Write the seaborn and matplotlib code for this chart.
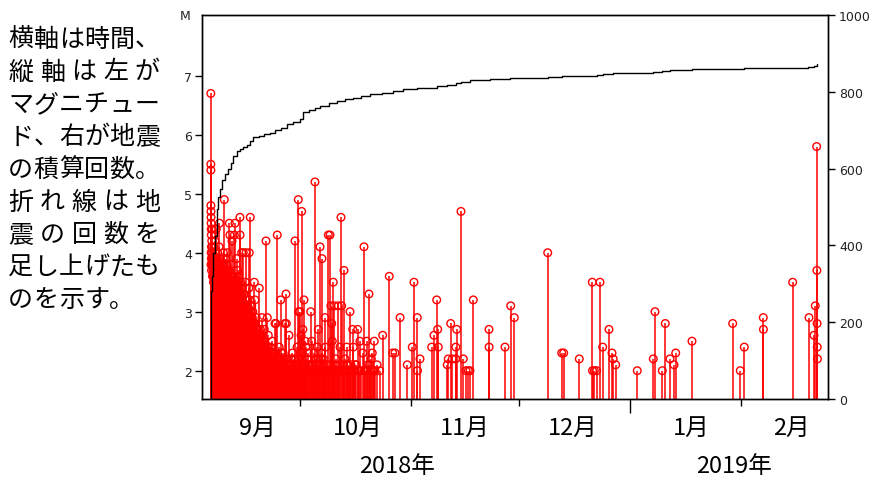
import numpy as np
import pandas as pd
import matplotlib
matplotlib.use("Agg")
import matplotlib.pyplot as plt
import seaborn as sns

# ---------------- data ----------------
START = "2018-09-01"  # event times are days since this date

# earthquakes with readable markers: days since 2018-09-01, magnitude
quake_days = [
    5.13, 5.14, 5.15, 5.16, 5.18, 5.2, 5.22, 5.25, 5.28, 5.32, 5.36, 5.4, 5.45, 5.5, 5.55, 5.62, 5.7, 5.78, 5.86, 5.94,
    6.05, 6.15, 6.25, 6.35, 6.45, 6.55, 6.65, 6.75, 6.85, 6.95, 7.05, 7.15, 7.25, 7.35, 7.45, 7.55, 7.65, 7.75, 7.85, 7.95,
    8.05, 8.2, 8.35, 8.5, 8.65, 8.8, 8.9, 9.0, 9.15, 9.3, 9.45, 9.6, 9.75, 9.9,
    10.05, 10.2, 10.3, 10.45, 10.6, 10.75, 10.9, 11.05, 11.2, 11.35, 11.5, 11.7, 11.88, 12.0,
    12.15, 12.3, 12.45, 12.6, 12.75, 12.9, 13.05, 13.27, 13.3, 13.45, 13.6, 13.74, 13.9,
    14.05, 14.19, 14.35, 14.5, 14.66, 14.8, 14.94, 15.1, 15.25, 15.42, 15.6, 15.75, 15.86, 15.95,
    16.14, 16.3, 16.53, 16.7, 16.85, 17.0, 17.15, 17.26, 17.45, 17.6, 17.8, 17.95,
    18.1, 18.25, 18.37, 18.5, 18.65, 18.8, 18.95, 19.1, 19.25, 19.4, 19.6, 19.8, 20.04,
    20.2, 20.35, 20.52, 20.7, 20.88, 21.05, 21.16, 21.3, 21.45, 21.6, 21.75, 21.9,
    22.1, 22.3, 22.5, 22.7, 22.85, 23.03, 23.2, 23.31, 23.5, 23.67, 23.85,
    24.0, 24.2, 24.4, 24.62, 24.78, 24.95, 25.1, 25.3, 25.5, 25.8, 25.95,
    26.09, 26.2, 26.45, 26.65, 26.93, 27.1, 27.3, 27.5, 27.7, 27.9,
    28.1, 28.3, 28.6, 28.8, 29.0, 29.2, 29.35, 29.52, 29.6, 29.8, 29.95,
    30.1, 30.3, 30.47, 30.6, 30.8, 30.95, 31.11, 31.3, 31.45, 31.6, 31.8, 32.0, 32.2, 32.5, 32.7, 32.98, 33.26, 33.5, 33.7, 33.9,
    34.18, 34.4, 34.6, 34.8, 35.1, 35.3, 35.57, 35.77, 36.0, 36.13, 36.3, 36.5, 36.75, 36.97, 37.1, 37.3, 37.5, 37.7, 37.89,
    38.1, 38.36, 38.6, 38.84, 39.0, 39.1, 39.28, 39.56, 39.8, 40.0, 40.3, 40.67, 40.9, 41.15, 41.43, 41.62, 41.9,
    42.26, 42.54, 42.8, 43.02, 43.3, 43.6, 43.94, 44.2, 44.41, 44.69, 44.86, 45.2, 45.6, 46.08, 46.3, 46.72, 47.0, 47.48, 47.84,
    48.2, 48.59, 48.9, 49.23, 49.6, 49.9,
    50.15, 50.26, 50.71, 50.91, 51.5, 52.2, 53.05, 54.89, 55.84, 56.48, 57.9,
    59.91, 61.3, 61.78, 62.7, 62.75, 63.45, 66.71, 67.35, 68.11, 68.39, 68.55, 71.06, 71.34, 72.01, 72.46, 73.41, 73.45,
    73.68, 74.88, 75.52, 76.27, 76.91, 77.39, 78.31,
    82.69, 82.72, 87.15, 88.74, 89.74, 99.06, 102.96, 103.51, 107.86, 111.49, 111.55, 112.05, 112.71, 113.63, 114.39,
    116.14, 116.98, 117.3, 118.01, 124.03, 128.49, 128.97, 131.0, 131.84, 133.15, 134.27, 134.74, 139.28,
    150.63, 152.75, 153.86, 159.16, 159.2, 167.35, 171.9, 173.29, 173.65, 174.04, 174.1, 174.15, 174.2, 174.25,
]
quake_mag = [
    6.7, 5.5, 5.4, 4.8, 4.7, 4.6, 4.5, 4.4, 4.3, 4.1, 4.0, 4.2, 3.9, 3.8, 4.4, 3.6, 4.0, 3.7, 3.5, 4.1,
    3.6, 3.9, 4.2, 3.7, 3.4, 3.8, 4.4, 3.5, 3.9, 3.6, 4.0, 3.7, 3.3, 3.8, 4.1, 4.5, 3.5, 3.6, 3.9, 3.4,
    3.7, 3.5, 3.8, 3.6, 4.0, 3.7, 4.9, 3.7, 3.4, 3.9, 3.5, 3.6, 4.0, 3.3,
    3.7, 3.4, 4.5, 4.3, 3.5, 3.8, 3.6, 4.2, 3.4, 3.5, 3.6, 4.3, 4.5, 3.3,
    3.5, 3.9, 3.4, 3.7, 3.2, 3.6, 3.3, 4.6, 4.3, 3.5, 3.1, 4.0, 3.4,
    3.0, 4.0, 3.3, 3.1, 2.8, 3.5, 4.0, 3.2, 2.9, 3.1, 3.0, 3.4, 4.0, 3.2,
    4.6, 3.0, 3.1, 2.9, 3.0, 2.7, 2.8, 3.5, 3.2, 2.8, 2.9, 2.6,
    2.5, 2.7, 2.5, 2.4, 3.4, 2.6, 2.7, 2.4, 2.6, 2.9, 2.3, 2.5, 2.7,
    2.3, 2.4, 4.2, 2.2, 2.9, 2.4, 2.6, 2.2, 2.3, 2.1, 2.4, 2.2,
    2.3, 2.5, 2.1, 2.2, 2.3, 2.8, 2.1, 2.8, 2.2, 4.3, 2.2,
    2.1, 2.4, 2.2, 3.2, 2.3, 2.0, 2.1, 2.3, 2.0, 2.8, 2.2,
    3.3, 2.8, 2.2, 2.0, 2.6, 2.0, 2.1, 2.2, 2.0, 2.3,
    2.0, 2.2, 4.2, 2.1, 2.0, 2.4, 2.1, 4.9, 3.0, 2.2, 3.0,
    2.0, 2.6, 4.7, 2.3, 2.7, 2.1, 3.2, 2.1, 2.5, 2.4, 2.0, 2.2, 2.3, 2.1, 2.0, 3.0, 2.5, 2.1, 2.0, 2.3,
    5.2, 2.2, 2.0, 2.4, 2.7, 2.0, 4.1, 2.2, 2.3, 3.9, 2.0, 2.2, 2.0, 2.9, 2.4, 2.0, 2.1, 2.0, 4.3,
    2.0, 4.3, 3.1, 2.8, 2.5, 2.0, 3.5, 3.1, 2.0, 2.2, 2.0, 3.1, 2.0, 2.4, 4.6, 3.1, 2.0,
    3.7, 2.2, 2.0, 2.4, 2.1, 2.0, 3.0, 2.1, 2.0, 2.7, 2.4, 2.0, 2.1, 2.7, 2.0, 2.5, 2.0, 2.3, 4.1,
    2.0, 2.5, 2.1, 3.3, 2.0, 2.2,
    2.3, 2.0, 2.5, 2.0, 2.1, 2.0, 2.6, 3.6, 2.3, 2.3, 2.9,
    2.1, 2.4, 3.5, 2.9, 2.0, 2.2, 2.4, 2.6, 3.2, 2.7, 2.4, 2.1, 2.2, 2.8, 2.2, 2.2, 2.4,
    2.7, 4.7, 2.2, 2.0, 2.0, 2.0, 3.2,
    2.7, 2.4, 2.4, 3.1, 2.9, 4.0, 2.3, 2.3, 2.2, 3.5, 2.0, 2.0, 2.0, 3.5, 2.4,
    2.7, 2.3, 2.2, 2.1, 2.0, 2.2, 3.0, 2.0, 2.8, 2.2, 2.1, 2.3, 2.5,
    2.8, 2.0, 2.4, 2.9, 2.7, 3.5, 2.9, 2.6, 3.1, 5.8, 3.7, 2.8, 2.4, 2.2,
]

# further aftershocks inside the solid red mass (estimated from its outline)
dense_days = [
    5.17, 5.24, 5.3, 5.34, 5.42, 5.48, 5.58, 5.66, 5.74, 5.82, 5.9, 5.98,
    6.1, 6.2, 6.3, 6.4, 6.5, 6.6, 6.7, 6.8, 6.9, 7.0, 7.1, 7.2, 7.3, 7.4, 7.5, 7.6, 7.7, 7.8, 7.9,
    8.12, 8.28, 8.42, 8.58, 8.72, 9.08, 9.22, 9.38, 9.52, 9.68, 9.82,
    10.12, 10.38, 10.52, 10.68, 10.82, 10.98, 11.12, 11.28, 11.42, 11.6, 11.8,
    12.08, 12.22, 12.38, 12.52, 12.68, 12.82, 12.98, 13.15, 13.38, 13.52, 13.68, 13.82, 13.98,
    14.12, 14.28, 14.42, 14.58, 14.72, 14.88, 15.02, 15.18, 15.34, 15.5, 15.68, 15.9,
    16.05, 16.22, 16.4, 16.6, 16.78, 16.92, 17.08, 17.35, 17.52, 17.7, 17.88,
    18.02, 18.18, 18.3, 18.44, 18.58, 18.72, 18.88, 19.02, 19.18, 19.32, 19.5, 19.7, 19.9,
    20.12, 20.28, 20.45, 20.62, 20.8, 20.95, 21.22, 21.38, 21.52, 21.68, 21.82,
    22.0, 22.2, 22.4, 22.6, 22.78, 22.95, 23.12, 23.4, 23.58, 23.75, 23.95,
    24.1, 24.3, 24.5, 24.7, 24.87, 25.2, 25.4, 25.65, 25.88,
    26.3, 26.55, 26.8, 27.0, 27.4, 27.8, 28.2, 28.45, 28.9, 29.45, 29.88,
    30.2, 30.7, 31.2, 31.7, 32.35, 32.85, 33.1, 33.6, 34.3, 34.9, 35.4, 35.9, 36.4, 36.9, 37.2,
    38.0, 38.5, 39.4, 39.9, 40.5, 41.0, 42.0, 42.4, 43.1, 43.8, 44.0, 45.0, 45.4, 46.5, 48.0, 48.8, 49.4, 50.5,
]
dense_mag = [
    3.8, 4.0, 3.9, 3.7, 3.9, 4.1, 3.8, 3.9, 3.6, 3.8, 3.9, 3.7,
    3.8, 3.7, 3.9, 3.6, 3.8, 3.7, 3.9, 3.6, 3.7, 3.8, 3.5, 3.7, 3.8, 3.6, 3.7, 3.9, 3.6, 3.8, 3.7,
    3.6, 3.7, 3.5, 3.8, 3.6, 3.5, 3.7, 3.6, 3.8, 3.5, 3.6,
    3.5, 3.6, 3.4, 3.5, 3.3, 3.5, 3.4, 3.6, 3.3, 3.5, 3.4,
    3.3, 3.5, 3.2, 3.4, 3.3, 3.1, 3.4, 3.2, 3.3, 3.1, 3.2, 3.0, 3.2,
    3.1, 2.9, 3.1, 3.0, 2.9, 3.1, 2.9, 3.0, 2.8, 3.0, 2.9, 2.8,
    2.9, 2.8, 2.9, 2.7, 2.8, 2.6, 2.7, 2.8, 2.6, 2.7, 2.5,
    2.6, 2.5, 2.4, 2.6, 2.5, 2.4, 2.5, 2.3, 2.5, 2.4, 2.3, 2.4, 2.3,
    2.4, 2.2, 2.3, 2.4, 2.2, 2.3, 2.2, 2.3, 2.1, 2.2, 2.3,
    2.2, 2.1, 2.3, 2.2, 2.0, 2.2, 2.1, 2.2, 2.0, 2.1, 2.2,
    2.0, 2.1, 2.0, 2.2, 2.0, 2.1, 2.0, 2.1, 2.0,
    2.1, 2.0, 2.1, 2.0, 2.0, 2.1, 2.0, 2.1, 2.0, 2.0, 2.1,
    2.0, 2.1, 2.0, 2.0, 2.1, 2.0, 2.0, 2.1, 2.0, 2.1, 2.0, 2.0, 2.1, 2.0, 2.0,
    2.0, 2.1, 2.0, 2.1, 2.0, 2.0, 2.1, 2.0, 2.1, 2.0, 2.0, 2.0, 2.1, 2.0, 2.0, 2.0, 2.1, 2.0,
]

# cumulative number of earthquakes (right axis)
cum_days = [
    5.13, 5.14, 5.3, 5.49, 5.8, 6.3, 6.77, 7.2, 7.69, 8.3, 9.09, 10.0, 10.7, 11.4, 12.3, 13.3, 14.2, 15.14,
    16.0, 16.98, 18.5, 20.0, 21.63, 23.0, 24.7, 26.29, 28.0, 30.0, 30.9, 32.5, 34.2, 35.57, 38.0, 40.23,
    42.5, 44.86, 47.0, 49.52, 53.0, 56.0, 58.8, 62.7, 68.11, 71.0, 73.4, 74.9, 77.39, 78.3, 83.0, 88.5,
    89.7, 99.1, 103.0, 107.9, 111.5, 112.7, 114.5, 117.3, 124.0, 128.5, 131.0, 133.2, 139.3, 150.6,
    153.9, 159.2, 167.4, 171.7, 173.3, 174.04, 174.2,
]
cum_count = [
    0, 227, 280, 321, 380, 425, 495, 525, 547, 570, 586, 599, 615, 634, 645, 652, 657, 662,
    672, 681, 686, 690, 694, 700, 706, 716, 722, 729, 747, 752, 758, 764, 770, 777,
    781, 785, 789, 794, 798, 803, 807, 810, 814, 818, 822, 826, 831, 832, 833, 836,
    837, 838, 840, 841, 842, 844, 846, 849, 850, 852, 854, 857, 859, 860,
    861, 862, 863, 865, 866, 868, 872,
]

month_labels = ["9月", "10月", "11月", "12月", "1月", "2月"]
month_label_dates = ["2018-09-19", "2018-10-17", "2018-11-16", "2018-12-16", "2019-01-18", "2019-02-15"]
year_labels = ["2018年", "2019年"]
year_label_dates = ["2018-10-28", "2019-01-30"]
month_tick_dates = ["2018-10-01", "2018-11-01", "2018-12-01", "2019-02-01"]
year_tick_dates = ["2019-01-01"]
mag_ticks = [2, 3, 4, 5, 6, 7]
count_ticks = [0, 200, 400, 600, 800, 1000]

note_lines = ["横軸は時間、", "縦軸は左が", "マグニチュー", "ド、右が地震", "の積算回数。",
              "折れ線は地", "震の回数を", "足し上げたも", "のを示す。"]

# ---------------- figure ----------------
sns.set_theme(style="white")
plt.rcParams["font.family"] = ["Noto Sans CJK JP", "DejaVu Sans"]

W, H = 875, 481
fig = plt.figure(figsize=(W / 100, H / 100), dpi=100)
L, R, B, T = 202, 828, 400, 16
ax = fig.add_axes([L / W, (H - B) / H, (R - L) / W, (B - T) / H])

start = pd.Timestamp(START)
def to_days(dates):
    return [(pd.Timestamp(d) - start).total_seconds() / 86400 for d in dates]

all_days = list(quake_days) + list(dense_days)
all_mag = list(quake_mag) + list(dense_mag)

YLO, YHI = 1.52, 8.03
XLO, XHI = 2.68, 177.2
ax.set_ylim(YLO, YHI)
ax.set_xlim(XLO, XHI)

# stems
ax.vlines(all_days, YLO, all_mag, colors="#ff0000", lw=1.1, zorder=2)
# hollow markers
sns.scatterplot(x=all_days, y=all_mag, ax=ax, marker="o", s=30, color="#ff0000",
                linewidth=1.0, legend=False, zorder=3)
pts = ax.collections[-1]
pts.set_facecolor("none")
pts.set_edgecolor("#ff0000")

# cumulative curve on right axis
ax2 = ax.twinx()
sns.lineplot(x=cum_days, y=cum_count, ax=ax2, color="black", lw=1.0,
             drawstyle="steps-post", estimator=None, sort=False, legend=False)
ax2.set_ylim(0, 1000)
ax2.set_xlim(XLO, XHI)
ax2.set_xlabel("")
ax2.set_ylabel("")

# axes styling
for a in (ax, ax2):
    for s in a.spines.values():
        s.set_color("black")
        s.set_linewidth(1.0)
    a.grid(False)

tick_font = dict(family="DejaVu Sans", size=9)
ax.set_yticks(mag_ticks)
ax.set_yticklabels([str(t) for t in mag_ticks], fontdict=tick_font)
ax.tick_params(axis="y", which="major", direction="out", length=5, width=1, color="black", pad=2,
               left=True, labelcolor="#222222")
ax.text(-0.027, 1.0, "M", transform=ax.transAxes, ha="center", va="center",
        fontfamily="DejaVu Sans", fontsize=9, color="#222222")

ax2.set_yticks(count_ticks)
ax2.set_yticklabels([str(t) for t in count_ticks], fontdict=tick_font)
ax2.tick_params(axis="y", which="major", direction="out", length=5, width=1, color="black", pad=3,
                right=True, labelcolor="#222222")

ax.set_xticks(to_days(month_tick_dates))
ax.set_xticks(to_days(year_tick_dates), minor=True)
ax.set_xticklabels([])
ax.set_xticklabels([], minor=True)
ax.tick_params(axis="x", which="major", direction="out", length=5, width=1, color="black", bottom=True)
ax.tick_params(axis="x", which="minor", direction="out", length=10, width=1, color="black", bottom=True)

trans = matplotlib.transforms.blended_transform_factory(ax.transData, ax.transAxes)
for lab, d in zip(month_labels, to_days(month_label_dates)):
    ax.text(d, -0.073, lab, transform=trans, ha="center", va="center", fontsize=17, color="black")
for lab, d in zip(year_labels, to_days(year_label_dates)):
    ax.text(d, -0.172, lab, transform=trans, ha="center", va="center", fontsize=17, color="black")

# left note, drawn char by char (justified like the original)
x0, full_w = 8, 152
for i, line in enumerate(note_lines):
    y = 40 + 32.5 * i
    n = len(line)
    if n >= 6 or i == len(note_lines) - 1:
        step = full_w / 6
        xs = [x0 + step / 2 + k * step for k in range(n)]
    else:
        cw = full_w / 6
        step = (full_w - cw) / (n - 1)
        xs = [x0 + cw / 2 + k * step for k in range(n)]
    for ch, xc in zip(line, xs):
        fig.text(xc / W, 1 - y / H, ch, ha="center", va="center", fontsize=18, color="black")

fig.savefig("out.png", dpi=100)
